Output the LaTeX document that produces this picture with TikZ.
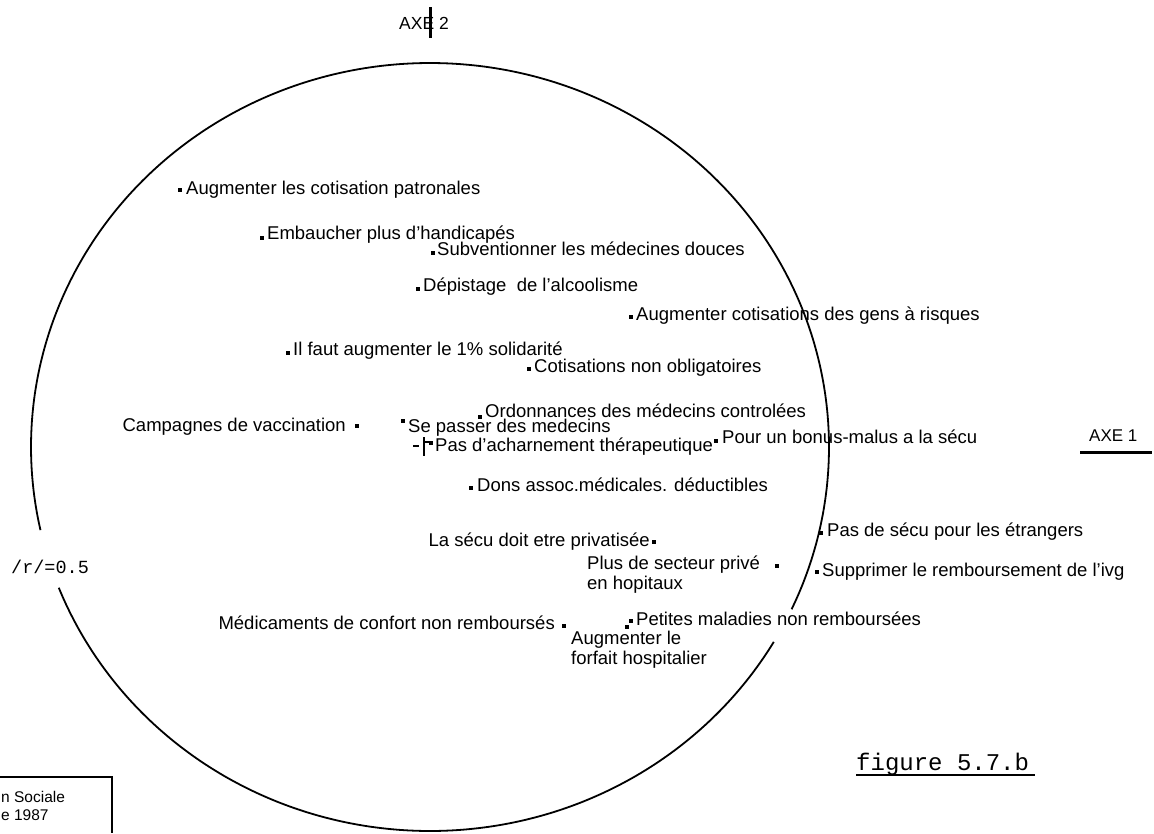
\documentclass[tikz,border=0pt]{standalone}
\usepackage{fontspec}
\setmainfont{Liberation Sans}
\newfontfamily\typefont{Liberation Mono}
\begin{document}
\begin{tikzpicture}[x=1pt,y=-1pt,
  dotmark/.style={rectangle,fill=black,inner sep=0pt,minimum size=4.8pt},
  lbl/.style={inner sep=0pt,anchor=base west,font=\fontsize{18.5}{21}\selectfont},
  lblr/.style={lbl,anchor=base east},
  lbltwo/.style={inner sep=0pt,anchor=north west,align=left,font=\fontsize{18.5}{20}\selectfont},
  monolbl/.style={inner sep=0pt,anchor=base west},
  heavy/.style={line width=3pt},
  ring/.style={line width=1.8pt}]
\useasboundingbox (0,0) rectangle (1154,833);

% correlation circle, open where the labels sit on it
\draw[ring] plot[domain=167.5:385,samples=160,smooth] ({430+399*cos(\x)},{447+384*sin(\x)});
\draw[ring] plot[domain=30.5:158.5,samples=100,smooth] ({430+399*cos(\x)},{447+384*sin(\x)});

% axes
\node[monolbl,font=\fontsize{17.5}{20}\selectfont] (axetwo) at (399,29) {AXE 2};
\coordinate (axtop) at (430,7);
\coordinate (axbot) at (430,38);
\draw[heavy] (axtop) -- (axbot);
\node[monolbl,font=\fontsize{17}{20}\selectfont] (axeone) at (1089,441) {AXE 1};
\coordinate (ulA) at (1080,452);
\coordinate (ulB) at (1152,452);
\draw[heavy] (ulA) -- (ulB);

% origin cross
\coordinate (oa) at (413,446);
\coordinate (ob) at (419,446);
\coordinate (oc) at (424,437);
\coordinate (od) at (424,456);
\coordinate (oe) at (424,442);
\coordinate (of) at (429,442);
\draw[line width=1.6pt] (oa) -- (ob) (oc) -- (od) (oe) -- (of);

% points and their labels
\node[dotmark] (d1) at (180,190) {};
\node[lbl] (l1) at (186,194) {Augmenter les cotisation patronales};
\node[dotmark] (d2) at (262,238) {};
\node[lbl] (l2) at (267,239) {Embaucher plus d'handicapés};
\node[dotmark] (d3) at (433,253) {};
\node[lbl] (l3) at (437,255) {Subventionner les médecines douces};
\node[dotmark] (d4) at (418,289) {};
\node[lbl] (l4) at (423,291) {Dépistage\ \ de l'alcoolisme};
\node[dotmark] (d5) at (631,317) {};
\node[lbl] (l5) at (636,320) {Augmenter cotisations des gens à risques};
\node[dotmark] (d6) at (288,353) {};
\node[lbl] (l6) at (293,355) {Il faut augmenter le 1\% solidarité};
\node[dotmark] (d7) at (529,369) {};
\node[lbl] (l7) at (534,372) {Cotisations non obligatoires};
\node[dotmark] (d8) at (357,426) {};
\node[lblr] (l8) at (346,431) {Campagnes de vaccination};
\node[dotmark] (d9) at (403,421) {};
\node[lbl] (l9) at (408,432) {Se passer des medecins};
\node[dotmark] (d10) at (480,417) {};
\node[lbl] (l10) at (485,417) {Ordonnances des médecins controlées};
\node[dotmark] (d11) at (716,441) {};
\node[lbl] (l11) at (722,443) {Pour un bonus-malus a la sécu};
\node[dotmark] (d12) at (431,443) {};
\node[lbl] (l12) at (435,451) {Pas d'acharnement thérapeutique};
\node[dotmark] (d13) at (471,488) {};
\node[lbl] (l13) at (477,491) {Dons assoc.médicales. déductibles};
\node[dotmark] (d14) at (821,533) {};
\node[lbl] (l14) at (827,536) {Pas de sécu pour les étrangers};
\node[dotmark] (d15) at (654,542) {};
\node[lblr] (l15) at (650,546) {La sécu doit etre privatisée};
\node[dotmark] (d16) at (777,566) {};
\node[lbltwo] (l16) at (587,556) {Plus de secteur privé\\en hopitaux};
\node[dotmark] (d17) at (817,572) {};
\node[lbl] (l17) at (822,576) {Supprimer le remboursement de l'ivg};
\node[dotmark] (d18) at (564,626) {};
\node[lblr] (l18) at (555,629) {Médicaments de confort non remboursés};
\node[dotmark] (d19) at (631,621) {};
\node[lbl] (l19) at (636,625) {Petites maladies non remboursées};
\node[dotmark] (d20) at (627,627) {};
\node[lbltwo] (l20) at (571,631) {Augmenter le\\forfait hospitalier};

% radius note
\node[monolbl,font=\typefont\fontsize{18.5}{21}\selectfont] (rnote) at (11,573) {/r/=0.5};

% caption
\node[monolbl,font=\typefont\fontsize{24}{28}\selectfont] (cap) at (856,770) {figure 5.7.b};
\coordinate (capA) at (856,775);
\coordinate (capB) at (1035,775);
\draw[line width=2.2pt] (capA) -- (capB);

% source box, cut by the page edge
\coordinate (bxA) at (0,777);
\coordinate (bxB) at (112,777);
\coordinate (bxC) at (112,833);
\draw[line width=2pt] (bxA) -- (bxB) -- (bxC);
\node[monolbl,font=\fontsize{15.5}{18}\selectfont] (src1) at (1,802) {n Sociale};
\node[monolbl,font=\fontsize{15.5}{18}\selectfont] (src2) at (1,820) {e 1987};
\end{tikzpicture}
\end{document}
